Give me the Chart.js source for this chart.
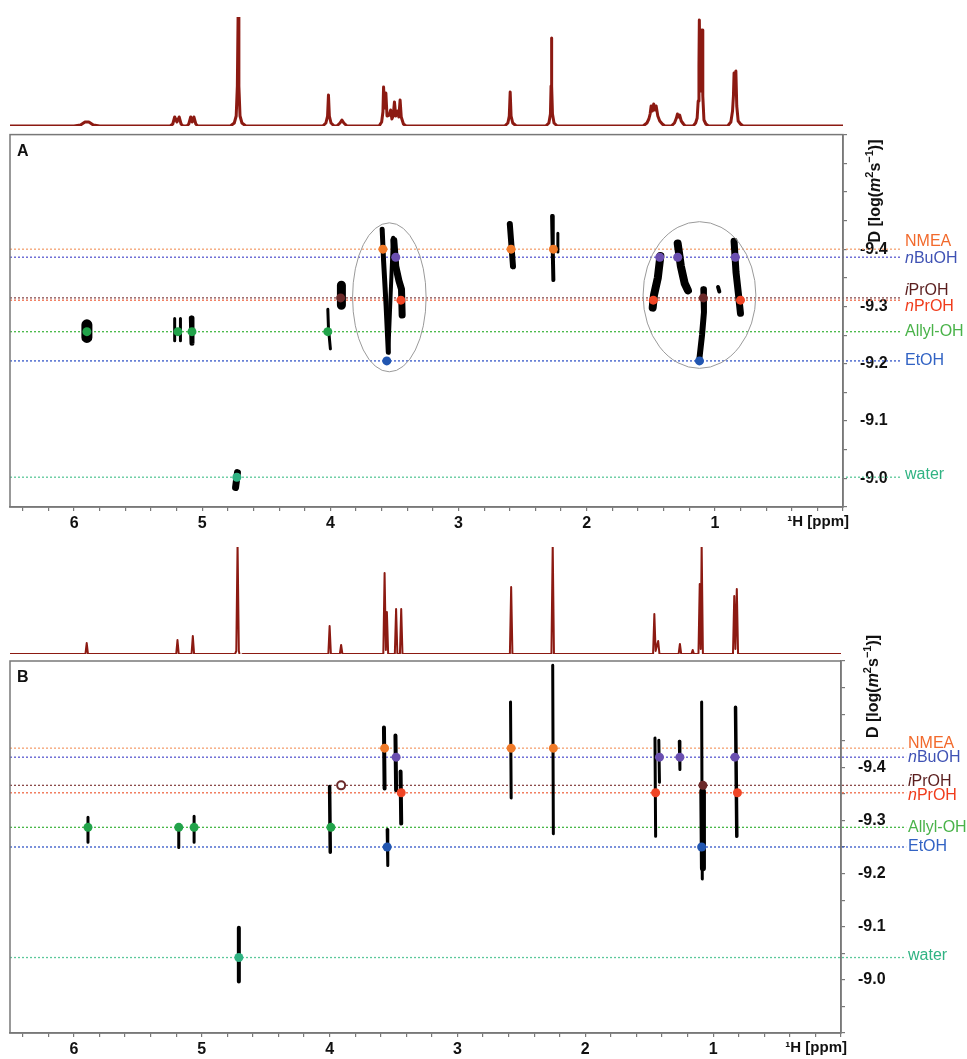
<!DOCTYPE html>
<html>
<head>
<meta charset="utf-8">
<title>DOSY spectra A and B</title>
<script src="https://cdn.jsdelivr.net/npm/chart.js@4.4.0/dist/chart.umd.min.js"></script>
<style>
  body { margin: 0; background: #fff; }
  #wrap { position: relative; width: 967px; height: 1059px; overflow: hidden; }
  canvas { position: absolute; left: 0; }
</style>
</head>
<body>
<div id="wrap">
  <canvas id="spec-a" width="967" height="132" style="top:0px"></canvas>
  <canvas id="dosy-a" width="967" height="426" style="top:112px"></canvas>
  <canvas id="spec-b" width="967" height="130" style="top:530px"></canvas>
  <canvas id="dosy-b" width="967" height="459" style="top:600px"></canvas>
</div>
<script>
// ---- data ----
var compounds = ['NMEA', 'nBuOH', 'iPrOH', 'nPrOH', 'Allyl-OH', 'EtOH', 'water'];

// diffusion coefficient of each compound, log(m2/s)
var diffA = [-9.400, -9.386, -9.315, -9.311, -9.256, -9.205, -9.002];
var diffB = [-9.436, -9.419, -9.366, -9.352, -9.287, -9.250, -9.042];

// signal positions (ppm) marked with a dot, per compound
var shiftsA = [[3.59, 2.59, 2.26], [3.49, 1.43, 1.29, 0.84], [3.92, 1.09], [3.45, 1.48, 0.80],
  [5.90, 5.19, 5.08, 4.02], [3.56, 1.12], [4.73]];
var shiftsB = [[3.57, 2.58, 2.25], [3.48, 1.42, 1.26, 0.83], [1.08], [3.44, 1.45, 0.81],
  [5.89, 5.18, 5.06, 3.99], [3.55, 1.09], [4.71]];
var openShiftsB = [3.91]; // iPrOH, open circle

// DOSY cross peaks, [ppm, D] vertices
var crossA = [
  [[5.90, -9.268], [5.90, -9.246]],
  [[5.215, -9.279], [5.215, -9.240]],
  [[5.17, -9.279], [5.17, -9.240]],
  [[5.085, -9.280], [5.08, -9.236]],
  [[4.02, -9.295], [4.015, -9.262], [4.00, -9.226]],
  [[3.914, -9.337], [3.914, -9.302]],
  [[3.596, -9.435], [3.585, -9.38], [3.565, -9.30], [3.548, -9.22]],
  [[3.548, -9.22], [3.53, -9.32], [3.515, -9.40], [3.51, -9.42]],
  [[3.505, -9.415], [3.49, -9.37], [3.465, -9.345], [3.445, -9.33], [3.44, -9.285]],
  [[4.74, -8.984], [4.725, -9.010]],
  [[2.60, -9.444], [2.585, -9.40], [2.575, -9.37]],
  [[2.27, -9.458], [2.265, -9.40], [2.26, -9.346]],
  [[2.225, -9.428], [2.225, -9.395]],
  [[1.425, -9.388], [1.445, -9.35], [1.475, -9.32], [1.485, -9.298]],
  [[1.29, -9.41], [1.265, -9.37], [1.235, -9.34], [1.21, -9.328]],
  [[1.09, -9.33], [1.085, -9.29], [1.10, -9.25], [1.12, -9.21]],
  [[0.975, -9.334], [0.965, -9.326]],
  [[0.85, -9.414], [0.835, -9.36], [0.815, -9.32], [0.80, -9.288]]
];
var crossB = [
  [[5.89, -9.306], [5.89, -9.259]],
  [[5.18, -9.292], [5.18, -9.249]],
  [[5.06, -9.308], [5.06, -9.259]],
  [[4.00, -9.364], [3.995, -9.240]],
  [[4.71, -9.098], [4.71, -8.997]],
  [[3.575, -9.475], [3.57, -9.360]],
  [[3.55, -9.283], [3.545, -9.215]],
  [[3.485, -9.460], [3.48, -9.357]],
  [[3.445, -9.392], [3.44, -9.294]],
  [[2.585, -9.523], [2.58, -9.342]],
  [[2.255, -9.592], [2.25, -9.275]],
  [[1.455, -9.455], [1.45, -9.270]],
  [[1.425, -9.451], [1.42, -9.372]],
  [[1.265, -9.449], [1.26, -9.396]],
  [[1.09, -9.523], [1.085, -9.190]],
  [[1.085, -9.355], [1.08, -9.210]],
  [[0.825, -9.513], [0.815, -9.270]]
];

// 1H spectra, [ppm, intensity] vertices
var specA = [[6.5, 0], [6.0, 0], [5.95, 1], [5.915, 4], [5.885, 4], [5.85, 1], [5.80, 0],
  [5.25, 0], [5.23, 2], [5.215, 9], [5.197, 4], [5.18, 9], [5.165, 2], [5.15, 0],
  [5.12, 0], [5.105, 2], [5.09, 9], [5.078, 4], [5.065, 9], [5.05, 2], [5.035, 0],
  [4.78, 0], [4.75, 3], [4.735, 10], [4.726, 40], [4.72, 112], [4.714, 40], [4.705, 10], [4.69, 3], [4.66, 0],
  [4.06, 0], [4.035, 3], [4.022, 10], [4.015, 31], [4.008, 10], [3.995, 3], [3.97, 0],
  [3.95, 0], [3.925, 3], [3.91, 6], [3.895, 3], [3.87, 0],
  [3.62, 0], [3.60, 4], [3.59, 14], [3.585, 39], [3.577, 18], [3.567, 33], [3.558, 10], [3.54, 11], [3.53, 16],
  [3.52, 7], [3.51, 10], [3.50, 24], [3.49, 10], [3.475, 15], [3.466, 9], [3.456, 26], [3.447, 9], [3.43, 2], [3.41, 0],
  [2.64, 0], [2.615, 3], [2.604, 10], [2.597, 34], [2.59, 10], [2.577, 3], [2.55, 0],
  [2.32, 0], [2.295, 3], [2.283, 12], [2.278, 40], [2.275, 88], [2.272, 40], [2.267, 12], [2.255, 3], [2.23, 0],
  [1.56, 0], [1.53, 3], [1.515, 7], [1.505, 12], [1.497, 20], [1.487, 15], [1.477, 22], [1.467, 16], [1.458, 20],
  [1.445, 10], [1.43, 5], [1.41, 2], [1.39, 0],
  [1.34, 0], [1.315, 3], [1.30, 8], [1.292, 12], [1.284, 9], [1.275, 11], [1.262, 5], [1.245, 2], [1.23, 0],
  [1.17, 0], [1.15, 3], [1.138, 8], [1.13, 25], [1.124, 60], [1.121, 106], [1.115, 40], [1.11, 35], [1.104, 60],
  [1.10, 96], [1.094, 30], [1.085, 6], [1.07, 2], [1.05, 0],
  [0.90, 0], [0.875, 4], [0.862, 15], [0.855, 30], [0.85, 53], [0.844, 32], [0.84, 35], [0.836, 55], [0.829, 20],
  [0.818, 5], [0.80, 2], [0.78, 0],
  [0.0, 0]];
var specB = [[6.5, 0], [5.91, 0], [5.90, 11], [5.89, 0],
  [5.20, 0], [5.19, 14], [5.18, 0],
  [5.08, 0], [5.07, 18], [5.06, 0],
  [4.74, 0], [4.73, 3], [4.72, 110], [4.71, 3], [4.70, -3], [4.68, 0],
  [4.01, 0], [4.00, 28], [3.99, 0],
  [3.92, 0], [3.91, 9], [3.90, 0],
  [3.58, 0], [3.57, 81], [3.56, 4], [3.552, 42], [3.542, 0],
  [3.49, 0], [3.48, 45], [3.47, 0], [3.45, 0], [3.44, 45], [3.43, 0],
  [2.59, 0], [2.58, 67], [2.57, 0],
  [2.265, 0], [2.255, 110], [2.245, -2], [2.235, 0],
  [1.47, 0], [1.46, 40], [1.45, 3], [1.43, 13], [1.42, 0],
  [1.27, 0], [1.26, 10], [1.25, 0],
  [1.17, 0], [1.16, 4], [1.15, 0],
  [1.115, 0], [1.105, 70], [1.097, 5], [1.09, 110], [1.08, -2], [1.07, 0],
  [0.845, 0], [0.835, 58], [0.826, 5], [0.815, 65], [0.805, 0],
  [0.0, 0]];

// circled groups: [ppm, D, ppm radius, D radius]
var ellipsesA = [[3.54, -9.316, 0.287, 0.13], [1.12, -9.32, 0.44, 0.128]];

// ---- styles ----
var dotColors = ['#f07a28', '#6a4fb0', '#6b2a2a', '#f04525', '#22a34a', '#2256b0', '#30b383'];
var lineColors = ['#f4a070', '#5a5ad0', '#8a4a4a', '#f06a48', '#48b848', '#3456c8', '#5cc89a'];
var labelColors = ['#f26a2c', '#3f52b4', '#5a1e1e', '#f03c1c', '#4ab34a', '#3263c4', '#30b383'];
var labelOffsetA = [-8, 1, -7, 6, 0, 0, -3];
var labelOffsetB = [-5, 0, -4, 3, 0, 0, -2];
var widthA = [11, 3, 3, 5, 3, 9, 5, 4, 7, 7, 6, 4, 3, 8, 8, 6, 4, 7];
var widthB = [3, 3, 3, 3.5, 4, 4, 3, 4, 4, 3, 3, 3, 3, 3, 3, 6, 3.5];
var AXIS_COLOR = '#787878';
var SPEC_COLOR = '#8c1a12';

Chart.defaults.font.family = '"Liberation Sans", Arial, sans-serif';

function dTick(v) {
  var r = Math.round(v * 10);
  if (Math.abs(v * 10 - r) > 1e-6 || r < -94 || r > -90) return '';
  return (r / 10).toFixed(1);
}

function ppmTick(v) {
  var r = Math.round(v);
  if (Math.abs(v - r) > 1e-6 || r < 1) return '';
  return String(r);
}

// draws frame, ellipses and all text that is not a tick label
function decorPlugin(cfg) {
  return {
    id: 'decor',
    afterDraw: function (chart) {
      var ctx = chart.ctx;
      var area = chart.chartArea;
      var xs = chart.scales.x;
      var ys = chart.scales.y;
      ctx.save();

      ctx.strokeStyle = AXIS_COLOR;
      ctx.lineWidth = 1.5;
      ctx.strokeRect(area.left, area.top, area.right - area.left, area.bottom - area.top);

      ctx.strokeStyle = '#9a9a9a';
      ctx.lineWidth = 1;
      cfg.ellipses.forEach(function (e) {
        var cx = xs.getPixelForValue(e[0]);
        var cy = ys.getPixelForValue(e[1]);
        var rx = Math.abs(xs.getPixelForValue(e[0] + e[2]) - cx);
        var ry = Math.abs(ys.getPixelForValue(e[1] + e[3]) - cy);
        ctx.beginPath();
        ctx.ellipse(cx, cy, rx, ry, 0, 0, Math.PI * 2);
        ctx.stroke();
      });

      // compound names
      ctx.textBaseline = 'middle';
      ctx.textAlign = 'left';
      for (var i = 0; i < compounds.length; i++) {
        var name = compounds[i];
        var y = ys.getPixelForValue(cfg.diff[i]) + cfg.labelOffset[i];
        var x = area.right + cfg.labelGap;
        ctx.fillStyle = labelColors[i];
        if (name[0] === 'n' || name[0] === 'i') {
          ctx.font = 'italic 16px "Liberation Sans", Arial, sans-serif';
          ctx.fillText(name[0], x, y);
          x += ctx.measureText(name[0]).width;
          name = name.slice(1);
        }
        ctx.font = '16px "Liberation Sans", Arial, sans-serif';
        ctx.fillText(name, x, y);
      }

      // axis title, reading upwards
      var parts = [
        ['D [log(', 'bold 16px', 0],
        ['m', 'italic bold 16px', 0],
        ['2', 'bold 11px', -7],
        ['s', 'bold 16px', 0],
        ['\u22121', 'bold 11px', -7],
        [')]', 'bold 16px', 0]
      ];
      ctx.translate(area.right + 37, area.top + cfg.titleOffset);
      ctx.rotate(-Math.PI / 2);
      ctx.fillStyle = '#111';
      ctx.textBaseline = 'alphabetic';
      var px = 0;
      parts.forEach(function (p) {
        ctx.font = p[1] + ' "Liberation Sans", Arial, sans-serif';
        ctx.fillText(p[0], px, p[2]);
        px += ctx.measureText(p[0]).width;
      });
      ctx.setTransform(1, 0, 0, 1, 0, 0);

      // x axis name
      ctx.fillStyle = '#111';
      ctx.textBaseline = 'top';
      ctx.textAlign = 'right';
      ctx.font = 'bold 15px "Liberation Sans", Arial, sans-serif';
      ctx.fillText('\u00b9H [ppm]', area.right + 6, area.bottom + 7);

      // panel letter
      ctx.textAlign = 'left';
      ctx.font = 'bold 16px "Liberation Sans", Arial, sans-serif';
      ctx.fillText(cfg.letter, area.left + 7, area.top + 9);
      ctx.restore();
    }
  };
}

function makeDosy(id, cfg) {
  var datasets = [];

  // dotted lines for each compound
  for (var i = 0; i < compounds.length; i++) {
    datasets.push({
      data: [{ x: 6.5, y: cfg.diff[i] }, { x: cfg.lineEnd, y: cfg.diff[i] }],
      borderColor: lineColors[i],
      borderWidth: 1.3,
      borderDash: [2, 2],
      pointRadius: 0,
      clip: false,
      order: 3
    });
  }

  // cross peaks
  for (var j = 0; j < cfg.cross.length; j++) {
    datasets.push({
      data: cfg.cross[j].map(function (p) { return { x: p[0], y: p[1] }; }),
      borderColor: '#000',
      borderWidth: cfg.widths[j],
      borderCapStyle: 'round',
      borderJoinStyle: 'round',
      pointRadius: 0,
      order: 2
    });
  }

  // assignment dots
  for (var k = 0; k < compounds.length; k++) {
    datasets.push({
      data: cfg.shifts[k].map(function (s) { return { x: s, y: cfg.diff[k] }; }),
      showLine: false,
      pointRadius: 4.5,
      pointBorderWidth: 0,
      pointBackgroundColor: dotColors[k],
      order: 0
    });
  }
  if (cfg.open) {
    datasets.push({
      data: cfg.open.map(function (s) { return { x: s, y: cfg.diff[2] }; }),
      showLine: false,
      pointRadius: 4,
      pointBorderWidth: 2,
      pointBorderColor: dotColors[2],
      pointBackgroundColor: '#fff',
      order: 0
    });
  }

  return new Chart(document.getElementById(id), {
    type: 'line',
    data: { datasets: datasets },
    options: {
      responsive: false,
      animation: false,
      events: [],
      layout: { padding: { left: 10, top: cfg.padTop, right: 0, bottom: 0 } },
      plugins: { legend: { display: false }, tooltip: { enabled: false } },
      scales: {
        x: {
          type: 'linear',
          min: 0,
          max: 6.5,
          reverse: true,
          afterFit: function (s) { s.height = cfg.xHeight; },
          grid: { drawOnChartArea: false, drawTicks: true, tickLength: 4, color: AXIS_COLOR, lineWidth: 1.2 },
          border: { color: AXIS_COLOR, width: 1.5 },
          ticks: {
            stepSize: 0.2, includeBounds: false, autoSkip: false, maxRotation: 0, padding: 3,
            color: '#111', font: { size: 16, weight: 'bold' }, callback: ppmTick
          }
        },
        y: {
          type: 'linear',
          position: 'right',
          min: -9.6,
          max: cfg.yMax,
          reverse: true,
          afterFit: function (s) { s.width = cfg.yWidth; },
          grid: { drawOnChartArea: false, drawTicks: true, tickLength: 4, color: AXIS_COLOR, lineWidth: 1.2 },
          border: { color: AXIS_COLOR, width: 1.5 },
          ticks: {
            stepSize: 0.05, includeBounds: false, autoSkip: false, padding: 13,
            color: '#111', font: { size: 16, weight: 'bold' }, callback: dTick
          }
        }
      }
    },
    plugins: [decorPlugin(cfg)]
  });
}

function makeSpectrum(id, pts, padTop, padRight, yMax, lw) {
  return new Chart(document.getElementById(id), {
    type: 'line',
    data: {
      datasets: [{
        data: pts.map(function (p) { return { x: p[0], y: p[1] }; }),
        borderColor: SPEC_COLOR,
        borderWidth: lw,
        borderJoinStyle: 'round',
        pointRadius: 0,
        tension: 0
      }]
    },
    options: {
      responsive: false,
      animation: false,
      events: [],
      layout: { padding: { left: 10, right: padRight, top: padTop, bottom: 6 } },
      plugins: { legend: { display: false }, tooltip: { enabled: false } },
      scales: {
        x: { type: 'linear', min: 0, max: 6.5, reverse: true, display: false },
        y: { min: 0, max: yMax, display: false }
      }
    }
  });
}

// Panel A
makeSpectrum('spec-a', specA, 17, 124, 109, 3);
makeDosy('dosy-a', {
  letter: 'A', diff: diffA, shifts: shiftsA, cross: crossA, widths: widthA,
  ellipses: ellipsesA, labelOffset: labelOffsetA, labelGap: 62, lineEnd: -0.46,
  padTop: 22, xHeight: 31, yWidth: 124, yMax: -8.95, titleOffset: 108
});

// Panel B
makeSpectrum('spec-b', specB, 17, 126, 107, 2);
makeDosy('dosy-b', {
  letter: 'B', diff: diffB, shifts: shiftsB, open: openShiftsB, cross: crossB, widths: widthB,
  ellipses: [], labelOffset: labelOffsetB, labelGap: 67, lineEnd: -0.51,
  padTop: 61, xHeight: 26, yWidth: 126, yMax: -8.9, titleOffset: 77
});
</script>
</body>
</html>
